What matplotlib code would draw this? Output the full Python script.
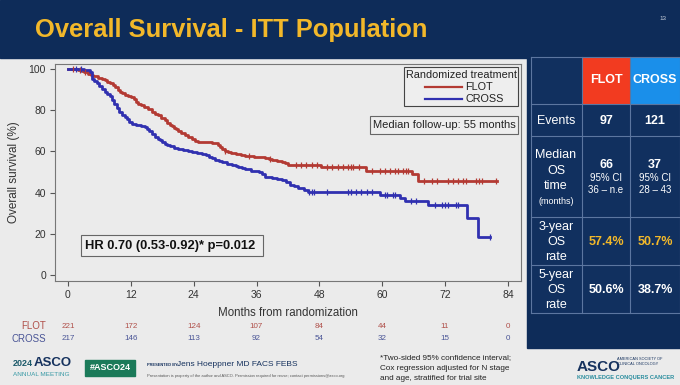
import matplotlib
matplotlib.use("Agg")
import matplotlib.pyplot as plt
import numpy as np
from matplotlib.patches import Rectangle
import matplotlib.transforms as mtransforms

plt.rcParams['font.family'] = ['Liberation Sans', 'DejaVu Sans']

# ---------------- data ----------------
FLOT_time = [0, 1.9, 2.6, 3.0, 3.8, 4.3, 4.8, 5.7, 6.5, 7.0, 7.5, 8.0, 8.5, 9.0, 9.5, 10.0,
             10.4, 10.9, 11.5, 12.0, 12.6, 13.0, 13.4, 14.0, 14.5, 15.2, 16.0, 16.6, 17.2,
             17.8, 18.5, 19.0, 19.5, 19.9, 20.3, 20.7, 21.0, 21.6, 22.3, 23.0, 23.7, 24.2,
             24.8, 27.5, 28.6, 29.0, 29.5, 30.0, 30.5, 31.2, 32.0, 33.0, 33.8, 35.5, 37.6,
             38.3, 39.0, 40.0, 40.9, 41.5, 42.0, 48.3, 56.9, 65.7, 66.8]
FLOT_surv = [100, 99.5, 99.0, 98.6, 97.6, 97.0, 96.5, 95.6, 95.2, 94.6, 93.8, 93.0, 92.0,
             91.0, 90.0, 89.0, 88.2, 87.4, 87.0, 86.5, 85.2, 84.2, 83.0, 82.3, 81.5, 80.5,
             79.0, 78.2, 77.5, 76.4, 75.0, 74.0, 73.0, 72.2, 71.5, 70.7, 70.0, 69.0, 68.0,
             67.0, 66.0, 65.2, 64.6, 64.2, 63.0, 62.0, 61.0, 60.3, 59.7, 59.2, 58.8, 58.3,
             57.8, 57.4, 56.8, 56.3, 55.8, 55.3, 54.9, 54.2, 53.4, 52.2, 50.6, 48.8, 45.8]
FLOT_end = 82.0
FLOT_cens = [1.0, 2.2, 3.3, 30.0, 34.5, 38.5, 43.5, 44.5, 45.5, 46.5, 47.5, 49.5, 50.5,
             51.5, 52.5, 53.5, 54.0, 54.5, 55.5, 58.0, 59.5, 60.5, 61.5, 62.5, 63.0, 64.0,
             64.5, 65.0, 68.0, 69.5, 70.5, 72.5, 73.5, 74.5, 75.5, 76.0, 78.0, 78.5, 79.0,
             81.8]

CROSS_time = [0, 3.0, 4.2, 4.6, 5.0, 5.5, 6.0, 6.5, 7.0, 7.5, 8.0, 8.4, 8.8, 9.3, 9.8,
              10.3, 10.8, 11.2, 11.7, 12.2, 13.0, 14.0, 14.7, 15.1, 15.5, 16.0, 16.6, 17.1,
              17.6, 18.0, 18.5, 19.0, 19.5, 20.3, 21.0, 22.0, 23.0, 23.7, 24.6, 25.6, 26.3,
              27.0, 27.5, 28.0, 28.8, 29.5, 30.4, 31.3, 32.0, 32.5, 33.2, 33.8, 35.0, 36.5,
              37.0, 37.6, 39.0, 40.0, 40.9, 41.6, 42.4, 43.2, 44.0, 45.0, 45.8, 59.6, 63.4,
              64.3, 68.7, 76.2, 78.3]
CROSS_surv = [100, 99.5, 98.5, 95.0, 94.0, 93.0, 91.8, 90.5, 89.0, 88.0, 87.0, 85.0, 83.0,
              81.0, 79.3, 77.7, 76.5, 75.5, 74.3, 73.3, 72.8, 72.3, 71.8, 71.0, 70.0, 68.5,
              67.0, 66.2, 65.5, 64.5, 63.6, 63.0, 62.5, 61.8, 61.2, 60.5, 60.0, 59.7, 59.2,
              58.7, 58.0, 57.5, 56.7, 55.8, 55.3, 54.8, 54.1, 53.4, 52.9, 52.5, 52.0, 51.5,
              50.7, 50.0, 48.8, 47.6, 47.0, 46.5, 46.0, 45.0, 43.7, 43.0, 42.2, 41.3, 40.3,
              38.7, 37.4, 35.9, 34.0, 27.7, 18.4]
CROSS_end = 80.6
CROSS_cens = [1.5, 2.5, 46.0, 46.5, 47.0, 49.5, 53.5, 54.0, 55.0, 56.0, 57.0, 58.0, 60.5,
              61.0, 62.0, 62.5, 65.5, 66.5, 70.0, 71.5, 72.0, 72.5, 74.0, 74.5, 80.5]

risk_times = [0, 12, 24, 36, 48, 60, 72, 84]
FLOT_risk = [221, 172, 124, 107, 84, 44, 11, 0]
CROSS_risk = [217, 146, 113, 92, 54, 32, 15, 0]

yticks = [0, 20, 40, 60, 80, 100]

table_cols = ["FLOT", "CROSS"]
events = ["97", "121"]
median_os = ["66", "37"]
median_ci = ["36 – n.e", "28 – 43"]
os3 = ["57.4%", "50.7%"]
os5 = ["50.6%", "38.7%"]

# ---------------- style ----------------
W, H = 680, 385
NAVY = '#0e2c59'
CELL = '#11305f'
GRAY = '#ebebeb'
RED = '#b33a33'
BLUE = '#3030b0'
GOLD = '#f2b82a'

fig = plt.figure(figsize=(6.8, 3.85), dpi=100)
bg = fig.add_axes([0, 0, 1, 1])
bg.set_xlim(0, W)
bg.set_ylim(H, 0)
bg.axis('off')

bg.add_patch(Rectangle((0, 0), W, H, color=GRAY, zorder=0))
bg.add_patch(Rectangle((0, 0), W, 58, color=NAVY, zorder=1))
bg.add_patch(Rectangle((527, 58), W - 527, 290, color=NAVY, zorder=1))

bg.text(35, 30, "Overall Survival - ITT Population", color=GOLD, fontsize=18.4,
        fontweight='bold', ha='left', va='center', zorder=3)
bg.text(663, 18, "13", color='#c8d0dc', fontsize=4.5, ha='center', va='center')

# ---------------- right table ----------------
xs = [531, 582, 630, 680]
ys = [57, 104, 136, 217, 265, 313]
bg.add_patch(Rectangle((531, 57), 149, 256, facecolor=CELL, edgecolor='none', zorder=2))
bg.add_patch(Rectangle((582, 57), 48, 47, facecolor='#f23b20', edgecolor='none', zorder=2))
bg.add_patch(Rectangle((630, 57), 50, 47, facecolor='#1a8fea', edgecolor='none', zorder=2))
for x in xs:
    bg.plot([x, x], [57, 313], color='#5c76a0', lw=0.8, zorder=3)
for y in ys:
    bg.plot([531, 680], [y, y], color='#5c76a0', lw=0.8, zorder=3)

cx = [606, 655]
tk = dict(color='white', ha='center', va='center', zorder=4)
for i in range(2):
    bg.text(cx[i], 80, table_cols[i], fontsize=9, fontweight='bold', **tk)
    bg.text(cx[i], 121, events[i], fontsize=9, fontweight='bold', **tk)
    bg.text(cx[i], 165, median_os[i], fontsize=9, fontweight='bold', **tk)
    bg.text(cx[i], 178, "95% CI", fontsize=7, **tk)
    bg.text(cx[i], 190, median_ci[i], fontsize=7, **tk)
    bg.text(cx[i], 242, os3[i], fontsize=9, fontweight='bold', color=GOLD,
            ha='center', va='center', zorder=4)
    bg.text(cx[i], 290, os5[i], fontsize=9, fontweight='bold', **tk)

bg.text(556, 121, "Events", fontsize=9, **tk)
for yy, s, fs in [(155, "Median", 9), (171, "OS", 9), (186, "time", 9), (201, "(months)", 6.5)]:
    bg.text(556, yy, s, fontsize=fs, **tk)
for yy, s in [(227, "3-year"), (242, "OS"), (257, "rate")]:
    bg.text(556, yy, s, fontsize=9, **tk)
for yy, s in [(275, "5-year"), (290, "OS"), (305, "rate")]:
    bg.text(556, yy, s, fontsize=9, **tk)

# ---------------- plot annotations (boxes) ----------------
bg.add_patch(Rectangle((404, 67), 114, 39, facecolor='#eeeeee', edgecolor='#444444', lw=0.8, zorder=2))
bg.text(461, 75, "Randomized treatment", fontsize=7.8, color='#222', ha='center', va='center', zorder=3)
bg.plot([425, 462], [87, 87], color=RED, lw=1.6, zorder=3)
bg.plot([425, 462], [99, 99], color=BLUE, lw=1.6, zorder=3)
bg.text(465, 87, "FLOT", fontsize=7.8, color='#222', ha='left', va='center', zorder=3)
bg.text(465, 99, "CROSS", fontsize=7.8, color='#222', ha='left', va='center', zorder=3)

bg.add_patch(Rectangle((370, 116), 148, 18, facecolor='#eeeeee', edgecolor='#666666', lw=0.8, zorder=2))
bg.text(444, 125, "Median follow-up: 55 months", fontsize=8, color='#222', ha='center', va='center', zorder=3)

bg.add_patch(Rectangle((81, 235), 182, 21, facecolor='#eeeeee', edgecolor='#666666', lw=0.8, zorder=2))
bg.text(85, 245.5, "HR 0.70 (0.53-0.92)* p=0.012", fontsize=9.3, fontweight='bold',
        color='#111', ha='left', va='center', zorder=3)

# ---------------- footer ----------------
bg.text(13, 366, "2024", fontsize=6.5, fontweight='bold', color='#1c5a6a', ha='left', va='baseline')
bg.text(34, 366, "ASCO", fontsize=9.5, fontweight='bold', color='#16325e', ha='left', va='baseline')
bg.text(13, 374, "ANNUAL MEETING", fontsize=4.6, color='#3a9aa6', ha='left', va='center')
bg.add_patch(Rectangle((85, 360), 50, 16, color='#1b7a59', zorder=2))
bg.text(110, 368, "#ASCO24", fontsize=6.5, fontweight='bold', color='white', ha='center', va='center', zorder=3)
bg.text(147, 365, "PRESENTED BY:", fontsize=2.9, fontweight='bold', color='#16325e', ha='left', va='center')
bg.text(177, 365, "Jens Hoeppner MD FACS FEBS", fontsize=6, color='#16325e', ha='left', va='center')
bg.text(147, 376, "Presentation is property of the author and ASCO. Permission required for reuse; contact permissions@asco.org",
        fontsize=2.9, color='#555', ha='left', va='center')
for yy, s in [(358, "*Two-sided 95% confidence interval;"),
              (368, "Cox regression adjusted for N stage"),
              (378, "and age, stratified for trial site")]:
    bg.text(380, yy, s, fontsize=5.9, color='#222', ha='left', va='center')
bg.text(577, 371, "ASCO", fontsize=11, fontweight='bold', color='#16325e', ha='left', va='baseline')
bg.text(617, 361.5, "AMERICAN SOCIETY OF\nCLINICAL ONCOLOGY", fontsize=2.8, color='#16325e',
        ha='left', va='center', linespacing=1.3)
bg.text(577, 377, "KNOWLEDGE CONQUERS CANCER", fontsize=4.1, fontweight='bold', color='#2a8d9e',
        ha='left', va='center')

# ---------------- KM plot ----------------
ax = fig.add_axes([55 / W, 1 - 281 / H, (521 - 55) / W, (281 - 64) / H])
ax.set_facecolor('none')
ax.set_xlim(-2.48, 86.5)
ax.set_ylim(-2.9, 102.4)


def km_steps(times, surv, end):
    return np.append(times, end), np.append(surv, surv[-1])


def surv_at(times, surv, ts):
    idx = np.searchsorted(times, ts, side='right') - 1
    return np.asarray(surv)[idx]


for times, surv, end, cens, col in [(FLOT_time, FLOT_surv, FLOT_end, FLOT_cens, RED),
                                    (CROSS_time, CROSS_surv, CROSS_end, CROSS_cens, BLUE)]:
    t, s = km_steps(times, surv, end)
    ax.step(t, s, where='post', color=col, lw=2.0, zorder=3)
    ax.plot(cens, surv_at(times, surv, cens), ls='none', marker='|', ms=5, mew=0.9,
            color=col, zorder=4)

ax.set_xticks(risk_times)
ax.set_yticks(yticks)
ax.tick_params(direction='out', length=3.5, width=0.8, color='#555', labelsize=7.5,
               labelcolor='#333', pad=3)
for sp in ax.spines.values():
    sp.set_color('#777777')
    sp.set_linewidth(0.8)
ax.set_xlabel("Months from randomization", fontsize=8.3, color='#333', labelpad=5)
ax.set_ylabel("Overall survival (%)", fontsize=8.5, color='#333', labelpad=6)

# numbers at risk
tr = mtransforms.blended_transform_factory(ax.transData, bg.transData)
for t, nf, nc in zip(risk_times, FLOT_risk, CROSS_risk):
    ax.text(t, 326, str(nf), transform=tr, fontsize=5.8, color='#b0504a', ha='center', va='center')
    ax.text(t, 339, str(nc), transform=tr, fontsize=5.8, color='#4a5596', ha='center', va='center')
bg.text(46, 326, "FLOT", fontsize=7, color='#b0504a', ha='right', va='center')
bg.text(46, 339, "CROSS", fontsize=7, color='#4a5596', ha='right', va='center')

fig.savefig("out.png", dpi=100)
